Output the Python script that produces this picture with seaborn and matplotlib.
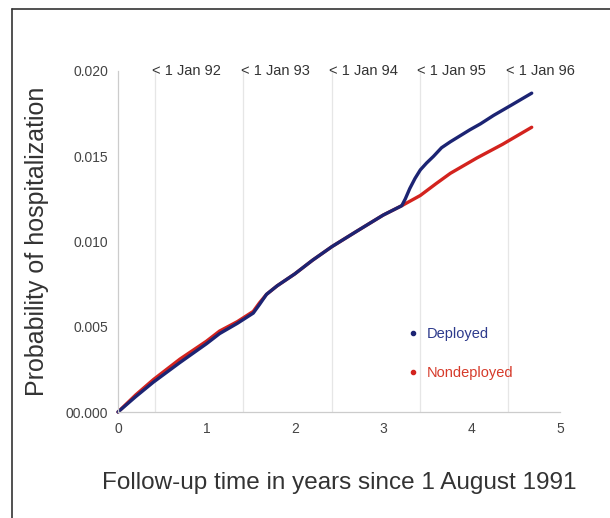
import pandas as pd
import numpy as np
import seaborn as sns
import matplotlib.pyplot as plt
from matplotlib.lines import Line2D

# Values
dep_years = [0, 0.20, 0.40, 0.70, 1.00, 1.15, 1.35, 1.53, 1.60, 1.68, 1.80, 2.00, 2.20, 2.42, 2.70,
             3.00, 3.21, 3.25, 3.30, 3.36, 3.42, 3.49, 3.57, 3.66, 3.76, 3.87, 3.98, 4.10, 4.25,
             4.45, 4.68]
dep_prob = [0.0, 0.0009, 0.00175, 0.0029, 0.0040, 0.0046, 0.0052, 0.0058, 0.0063, 0.0069, 0.0074,
            0.0081, 0.0089, 0.0097, 0.0106, 0.01155, 0.0121, 0.0125, 0.0131, 0.0137, 0.0142,
            0.0146, 0.0150, 0.0155, 0.01585, 0.0162, 0.01655, 0.0169, 0.0174, 0.0180, 0.0187]
nondep_years = [0, 0.20, 0.40, 0.70, 1.00, 1.15, 1.35, 1.53, 1.60, 1.68, 1.80, 2.00, 2.20, 2.42,
                2.70, 3.00, 3.21, 3.42, 3.60, 3.76, 4.06, 4.35, 4.68]
nondep_prob = [0.0, 0.0010, 0.0019, 0.0031, 0.00415, 0.00475, 0.0053, 0.0059, 0.0064, 0.0069,
               0.0074, 0.0081, 0.0089, 0.0097, 0.0106, 0.01155, 0.0121, 0.0127, 0.0134, 0.0140,
               0.0149, 0.0157, 0.0167]

jan_pos = [5/12, 1 + 5/12, 2 + 5/12, 3 + 5/12, 4 + 5/12]
jan_labels = ['< 1 Jan 92', '< 1 Jan 93', '< 1 Jan 94', '< 1 Jan 95', '< 1 Jan 96']
y_ticks = [0, 0.005, 0.010, 0.015, 0.020]
y_ticklabels = ['00.000', '0.005', '0.010', '0.015', '0.020']
x_ticks = [0, 1, 2, 3, 4, 5]

df = pd.concat([
    pd.DataFrame({'year': dep_years, 'prob': dep_prob, 'group': 'Deployed'}),
    pd.DataFrame({'year': nondep_years, 'prob': nondep_prob, 'group': 'Nondeployed'}),
])

sns.set_style('white')
plt.rcParams['font.family'] = ['Liberation Sans', 'DejaVu Sans']

navy = '#1c2473'
red = '#d3231e'

fig = plt.figure(figsize=(6.1, 5.18), dpi=100)
ax = fig.add_axes([118/610, 1 - 412/518, 442/610, 341/518])

# faint vertical markers at each new year
for xp in jan_pos:
    ax.axvline(xp, color='#e6e6e6', lw=0.9, zorder=0)

sns.lineplot(data=df, x='year', y='prob', hue='group', hue_order=['Nondeployed', 'Deployed'],
             palette={'Deployed': navy, 'Nondeployed': red}, linewidth=2.4,
             legend=False, ax=ax, clip_on=False)

ax.set_xlim(0, 5)
ax.set_ylim(0, 0.020)
ax.set_xticks(x_ticks)
ax.set_xticklabels([str(t) for t in x_ticks])
ax.set_yticks(y_ticks)
ax.set_yticklabels(y_ticklabels)
ax.tick_params(axis='both', labelsize=10, colors='#c8c8c8', labelcolor='#444444',
               length=3, width=0.8, direction='out', pad=4)

for s in ['top', 'right']:
    ax.spines[s].set_visible(False)
for s in ['left', 'bottom']:
    ax.spines[s].set_color('#cccccc')
    ax.spines[s].set_linewidth(0.9)

for xp, lab in zip(jan_pos, jan_labels):
    ax.text(xp - 0.03, 0.0200, lab, ha='left', va='center', fontsize=10.5, color='#333333')

ax.set_xlabel('Follow-up time in years since 1 August 1991', fontsize=17.5, color='#333333', labelpad=26)
ax.set_ylabel('Probability of hospitalization', fontsize=18, color='#333333', labelpad=12)

handles = [
    Line2D([], [], marker='o', markersize=3, color=navy, linestyle='none'),
    Line2D([], [], marker='o', markersize=3, color=red, linestyle='none'),
]
leg = ax.legend(handles, ['Deployed', 'Nondeployed'], loc='center left',
                bbox_to_anchor=(0.625, 0.172), frameon=False, fontsize=10.5,
                handletextpad=0.5, labelspacing=1.7, handlelength=0.8)
leg.get_texts()[0].set_color('#2d3a8c')
leg.get_texts()[1].set_color('#d63a2a')

# figure border (left and top edges visible in the reference)
fig.add_artist(Line2D([12/610, 12/610], [0, 1 - 9/518], color='#333333', lw=1.2))
fig.add_artist(Line2D([12/610, 1], [1 - 9/518, 1 - 9/518], color='#333333', lw=1.2))

fig.savefig('out.png', dpi=100)
